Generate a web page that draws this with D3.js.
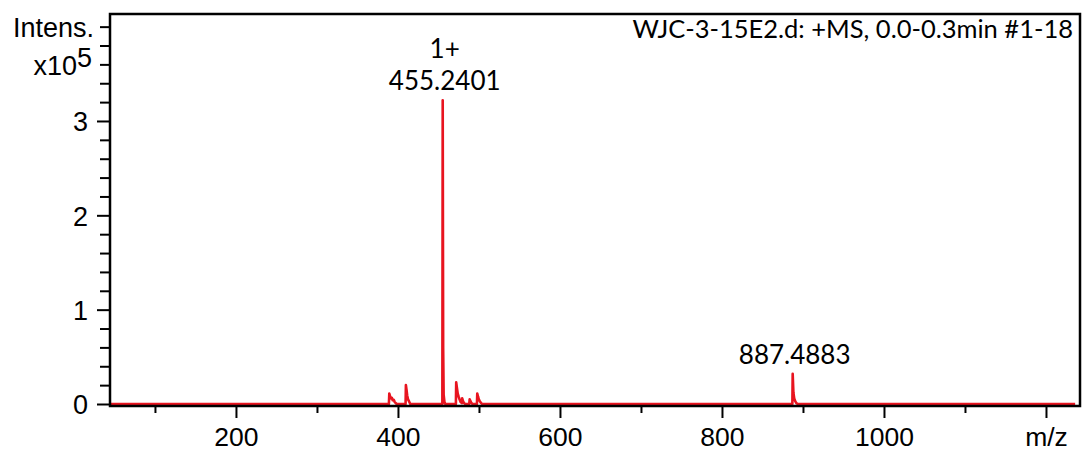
<!DOCTYPE html>
<html>
<head>
<meta charset="utf-8">
<script src="https://cdn.jsdelivr.net/npm/d3@7"></script>
<style>
  body { margin: 0; background: #fff; }
  svg { display: block; }
</style>
</head>
<body>
<div id="viz"></div>
<script>
// spectrum profile, m/z and intensity (x10^5)
var specMz = [45,
  388.8, 389.3, 390.3, 391.5, 392.5, 393.5, 394.8, 396.0, 398.5,
  409.4, 409.8, 410.6, 411.4, 412.4, 413.6, 415.2,
  454.8, 455.24, 455.8, 456.4, 457.4, 458.4,
  471.5, 471.9, 472.8, 473.8, 474.8, 476.0, 477.5, 478.8, 479.3, 480.3, 481.5, 483.0,
  488.0, 488.5, 489.5, 490.7, 492.0,
  497.5, 497.9, 498.8, 499.8, 501.0, 502.5, 504.0,
  886.9, 887.3, 888.2, 889.2, 890.4, 891.8, 893.5,
  1236];
var specInt = [0,
  0, 0.11, 0.08, 0.06, 0.065, 0.04, 0.045, 0.02, 0,
  0, 0.20, 0.15, 0.09, 0.05, 0.03, 0,
  0, 3.22, 0.6, 0.1, 0.02, 0,
  0, 0.23, 0.17, 0.11, 0.08, 0.05, 0.02, 0.01, 0.06, 0.03, 0.01, 0,
  0, 0.05, 0.03, 0.01, 0,
  0, 0.11, 0.08, 0.05, 0.03, 0.01, 0,
  0, 0.32, 0.12, 0.06, 0.03, 0.01, 0,
  0];

// annotated peaks
var peakMz = [455.24, 887.3];
var peakLabels = ["455.2401", "887.4883"];
var peakCharges = ["1+", ""];

// axes
var xTicks = [100, 200, 300, 400, 500, 600, 700, 800, 900, 1000, 1100, 1200];
var xTickLabels = ["", "200", "", "400", "", "600", "", "800", "", "1000", "", "m/z"];
var yTicks = [0, 0.2, 0.4, 0.6, 0.8, 1, 1.2, 1.4, 1.6, 1.8, 2, 2.2, 2.4, 2.6, 2.8, 3, 3.2, 3.4, 3.6, 3.8, 4];
var yTickLabels = {0: "0", 1: "1", 2: "2", 3: "3"};
var title = "WJC-3-15E2.d: +MS, 0.0-0.3min #1-18";

var width = 1084, height = 452;
var plot = {left: 110, right: 1080, top: 14, zero: 404, bottom: 406};
var red = "#e8141f";
var axisFont = "'Liberation Sans', Arial, sans-serif";
var labelFont = "Lato, 'Open Sans', sans-serif";

var svg = d3.select("#viz").append("svg")
  .attr("width", width)
  .attr("height", height);

var x = d3.scaleLinear().domain([44.5, 1242]).range([plot.left, plot.right]);
var y = d3.scaleLinear().domain([0, 4.134]).range([plot.zero, plot.top]);

// x axis
var xAxis = svg.append("g")
  .attr("transform", "translate(0," + plot.bottom + ")")
  .call(d3.axisBottom(x).tickValues(xTicks).tickSizeOuter(0)
    .tickFormat(function(d, i) { return xTickLabels[i]; }));
xAxis.select(".domain").remove();
xAxis.selectAll(".tick line")
  .attr("stroke", "#000").attr("stroke-width", 2)
  .attr("y2", function(d) { return d % 200 == 0 ? 12 : 7; });
xAxis.selectAll(".tick text")
  .attr("y", 40).attr("dy", 0)
  .attr("font-family", axisFont).attr("font-size", 26.5).attr("fill", "#000");

// y axis
var yAxis = svg.append("g")
  .attr("transform", "translate(" + plot.left + ",0)")
  .call(d3.axisLeft(y).tickValues(yTicks).tickSizeOuter(0)
    .tickFormat(function(d) { return yTickLabels[d] || ""; }));
yAxis.select(".domain").remove();
yAxis.selectAll(".tick line")
  .attr("stroke", "#000").attr("stroke-width", 2)
  .attr("x2", function(d) { return (d in yTickLabels) ? -13 : -10; });
yAxis.selectAll(".tick text")
  .attr("x", -22).attr("dy", "0.36em")
  .attr("font-family", axisFont).attr("font-size", 27).attr("fill", "#000");

// axis title
svg.append("text")
  .attr("x", 94).attr("y", 37)
  .attr("text-anchor", "end")
  .attr("font-family", axisFont).attr("font-size", 27)
  .text("Intens.");
var mult = svg.append("text")
  .attr("x", 92).attr("y", 75)
  .attr("text-anchor", "end")
  .attr("font-family", axisFont).attr("font-size", 27);
mult.append("tspan").text("x10");
mult.append("tspan").attr("dy", -8).text("5");

// spectrum
var line = d3.line()
  .x(function(d) { return x(d[0]); })
  .y(function(d) { return y(d[1]); });
svg.append("path")
  .datum(specMz.map(function(m, i) { return [m, specInt[i]]; }))
  .attr("d", line)
  .attr("fill", "none")
  .attr("stroke", red)
  .attr("stroke-width", 2.6)
  .attr("stroke-linejoin", "round");

// peak labels
peakMz.forEach(function(m, i) {
  var top = y(specInt[specMz.indexOf(m)]);
  svg.append("text")
    .attr("x", x(m) + 2).attr("y", top - 10)
    .attr("text-anchor", "middle")
    .attr("font-family", labelFont).attr("font-size", 26)
    .text(peakLabels[i]);
  if (peakCharges[i]) {
    svg.append("text")
      .attr("x", x(m) + 2).attr("y", top - 42)
      .attr("text-anchor", "middle")
      .attr("font-family", labelFont).attr("font-size", 26)
      .text(peakCharges[i]);
  }
});

// frame
svg.append("rect")
  .attr("x", plot.left).attr("y", plot.top)
  .attr("width", plot.right - plot.left).attr("height", plot.bottom - plot.top)
  .attr("fill", "none").attr("stroke", "#000").attr("stroke-width", 2.5);

// title
svg.append("text")
  .attr("x", 1073).attr("y", 38)
  .attr("text-anchor", "end")
  .attr("font-family", labelFont).attr("font-size", 25.5)
  .text(title);
</script>
</body>
</html>
